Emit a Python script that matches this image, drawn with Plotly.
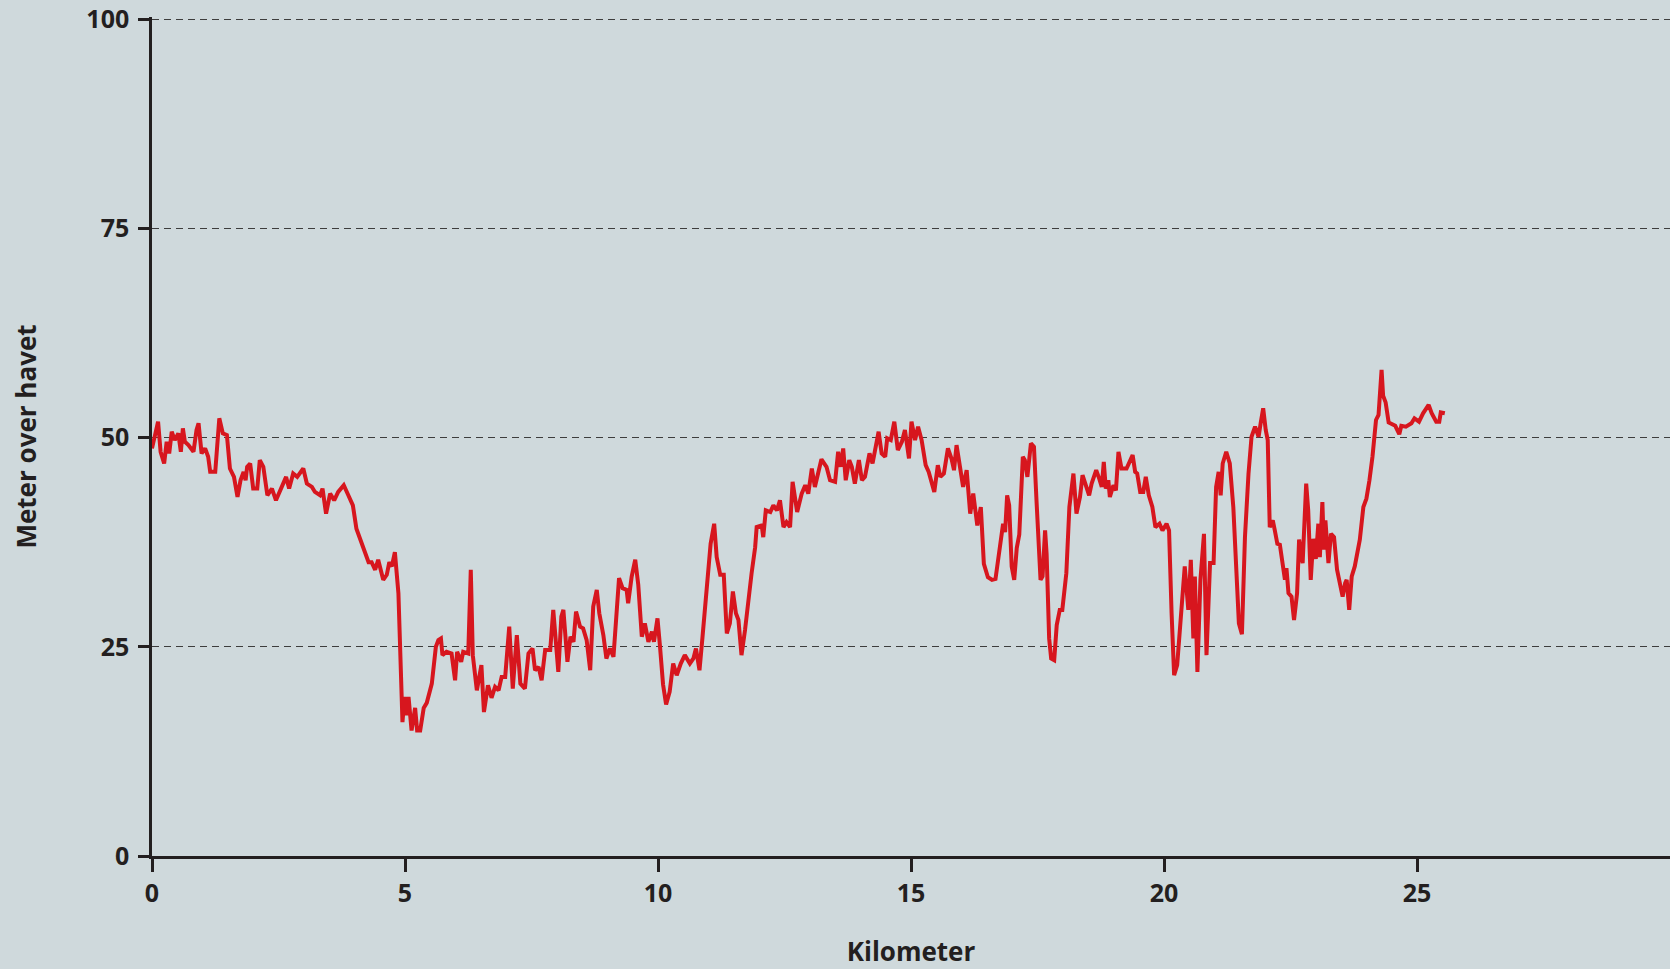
import plotly.graph_objects as go

km = [0.00, 0.12, 0.17, 0.24, 0.29, 0.34, 0.39, 0.45, 0.52, 0.57, 0.61, 0.65, 0.72, 0.82, 0.88, 0.92, 0.98,
      1.05, 1.11, 1.15, 1.25, 1.29, 1.33, 1.40, 1.48, 1.54, 1.62, 1.69, 1.75, 1.81, 1.85, 1.88, 1.94,
      2.00, 2.08, 2.13, 2.20, 2.28, 2.37, 2.45, 2.53, 2.59, 2.65, 2.71, 2.79, 2.87, 2.99,
      3.06, 3.16, 3.22, 3.32, 3.37, 3.44, 3.52, 3.60, 3.68, 3.79, 3.88, 3.97,
      4.04, 4.14, 4.21, 4.28, 4.34, 4.41, 4.47, 4.57, 4.64, 4.69, 4.74, 4.80, 4.87, 4.92, 4.95, 4.99,
      5.03, 5.07, 5.13, 5.20, 5.24, 5.30, 5.37, 5.43, 5.49, 5.53, 5.61, 5.66, 5.71, 5.74, 5.82, 5.92, 5.99,
      6.03, 6.11, 6.15, 6.25, 6.30, 6.34, 6.42, 6.51, 6.56, 6.64, 6.71, 6.78, 6.85, 6.91, 6.98,
      7.06, 7.13, 7.21, 7.28, 7.37, 7.44, 7.52, 7.57, 7.64, 7.70, 7.77, 7.87, 7.93,
      8.03, 8.09, 8.13, 8.21, 8.27, 8.33, 8.38, 8.46, 8.52, 8.59, 8.66, 8.72, 8.79, 8.84, 8.92, 8.98,
      9.05, 9.12, 9.17, 9.23, 9.30, 9.38, 9.41, 9.48, 9.55, 9.61, 9.68, 9.74, 9.81, 9.88, 9.92, 9.99,
      10.04, 10.10, 10.16, 10.23, 10.30, 10.37, 10.45, 10.53, 10.63, 10.70, 10.75, 10.82, 10.88, 10.96,
      11.04, 11.11, 11.16, 11.23, 11.30, 11.36, 11.42, 11.48, 11.54, 11.59, 11.65, 11.72, 11.78, 11.85, 11.92, 11.95,
      12.05, 12.08, 12.13, 12.22, 12.28, 12.35, 12.41, 12.48, 12.54, 12.61, 12.66, 12.75, 12.84, 12.91, 12.97,
      13.04, 13.10, 13.17, 13.23, 13.33, 13.40, 13.50, 13.56, 13.61, 13.66, 13.71, 13.78, 13.83, 13.89, 13.97,
      14.03, 14.09, 14.18, 14.24, 14.31, 14.36, 14.42, 14.49, 14.53, 14.60, 14.67, 14.74, 14.82, 14.88, 14.96,
      15.01, 15.08, 15.14, 15.21, 15.29, 15.35, 15.41, 15.46, 15.53, 15.58, 15.65, 15.73, 15.80, 15.85, 15.90, 15.97,
      16.03, 16.10, 16.17, 16.23, 16.31, 16.38, 16.44, 16.52, 16.60, 16.67, 16.76, 16.82, 16.86, 16.90, 16.94, 16.99,
      17.04, 17.09, 17.14, 17.21, 17.25, 17.30, 17.37, 17.43, 17.48, 17.56, 17.60, 17.65, 17.68, 17.73, 17.77, 17.83, 17.88, 17.94, 17.99,
      18.07, 18.13, 18.21, 18.27, 18.34, 18.39, 18.46, 18.52, 18.57, 18.66, 18.72, 18.77, 18.81, 18.85, 18.90, 18.93,
      19.00, 19.05, 19.10, 19.16, 19.26, 19.33, 19.38, 19.43, 19.47, 19.53, 19.59, 19.64, 19.70, 19.77, 19.83, 19.91, 19.97,
      20.05, 20.10, 20.15, 20.20, 20.26, 20.32, 20.41, 20.48, 20.53, 20.58, 20.61, 20.66, 20.72, 20.79, 20.84, 20.91, 20.98,
      21.03, 21.08, 21.12, 21.16, 21.23, 21.30, 21.37, 21.43, 21.48, 21.54, 21.60, 21.67, 21.73, 21.80, 21.87, 21.91, 21.96,
      22.01, 22.05, 22.09, 22.15, 22.19, 22.24, 22.29, 22.35, 22.39, 22.42, 22.46, 22.52, 22.57, 22.63, 22.67, 22.74, 22.81, 22.85, 22.90, 22.95,
      23.00, 23.05, 23.08, 23.13, 23.16, 23.19, 23.25, 23.30, 23.36, 23.42, 23.47, 23.53, 23.58, 23.61, 23.66, 23.71, 23.77, 23.87, 23.94,
      24.00, 24.06, 24.12, 24.19, 24.24, 24.30, 24.33, 24.38, 24.44, 24.57, 24.65, 24.69, 24.78, 24.89, 24.95,
      25.04, 25.12, 25.23, 25.29, 25.38, 25.44, 25.47, 25.55]

elevation = [48.7, 51.9, 48.3, 46.9, 49.5, 48.1, 50.7, 49.7, 50.5, 48.3, 51.1, 49.5, 49.1, 48.3, 50.9, 51.7, 48.1,
             48.7, 47.7, 45.9, 45.9, 49.3, 52.3, 50.5, 50.3, 46.3, 45.3, 42.9, 44.9, 45.9, 44.9, 46.5, 46.9,
             43.9, 43.9, 47.3, 46.5, 43.1, 43.9, 42.5, 43.7, 44.3, 45.3, 43.9, 45.7, 45.3, 46.3,
             44.5, 44.1, 43.5, 43.1, 43.9, 40.9, 43.3, 42.5, 43.5, 44.3, 43.1, 41.9,
             39.1, 37.5, 36.3, 35.1, 35.1, 34.2, 35.4, 33.0, 33.6, 35.1, 34.6, 36.3, 31.4, 19.6, 16.0, 19.0,
             16.8, 19.0, 15.0, 17.7, 15.0, 15.0, 17.7, 18.3, 19.6, 20.6, 25.0, 25.8, 26.0, 24.0, 24.4, 24.2, 21.0,
             24.4, 23.2, 24.4, 24.2, 34.2, 24.0, 19.8, 22.8, 17.2, 20.4, 18.9, 20.2, 19.8, 21.4, 21.4,
             27.4, 20.0, 26.4, 20.6, 20.0, 24.2, 24.8, 22.2, 22.6, 21.0, 24.6, 24.6, 29.4,
             22.0, 28.6, 29.4, 23.2, 26.2, 25.6, 29.2, 27.4, 27.2, 25.8, 22.2, 29.8, 31.8, 29.0, 26.4, 23.6,
             24.8, 23.8, 29.0, 33.2, 32.0, 31.8, 30.2, 33.4, 35.4, 32.4, 26.2, 27.8, 25.6, 26.8, 25.6, 28.4,
             25.0, 20.5, 18.1, 19.6, 23.0, 21.6, 23.0, 24.0, 23.0, 23.6, 24.8, 22.2, 26.2, 31.2,
             37.3, 39.7, 35.7, 33.6, 33.6, 26.6, 27.8, 31.6, 29.0, 28.2, 24.0, 27.0, 30.4, 33.8, 36.9, 39.3,
             39.5, 38.1, 41.3, 41.1, 41.9, 41.3, 42.5, 39.3, 39.9, 39.3, 44.7, 41.1, 43.3, 44.3, 43.3,
             46.3, 44.1, 45.9, 47.4, 46.5, 44.9, 44.7, 48.3, 46.5, 48.7, 44.9, 47.3, 46.5, 44.5, 47.3,
             44.9, 45.3, 48.1, 46.9, 49.5, 50.7, 48.1, 47.7, 49.9, 49.7, 51.9, 48.5, 49.5, 50.9, 47.5,
             51.9, 49.7, 51.3, 49.7, 46.7, 45.9, 44.5, 43.5, 46.7, 45.3, 45.7, 48.7, 47.5, 46.1, 49.1, 46.1,
             44.1, 46.1, 40.9, 43.3, 39.5, 41.7, 34.9, 33.3, 33.0, 33.1, 36.6, 39.7, 38.7, 43.1, 41.9, 34.6,
             33.0, 36.8, 38.4, 47.7, 47.3, 45.3, 49.3, 48.9, 42.5, 33.0, 33.4, 38.9, 36.1, 26.0, 23.6, 23.4, 27.6, 29.4, 29.4,
             33.8, 41.7, 45.7, 40.9, 42.9, 45.5, 44.3, 43.1, 44.5, 46.1, 45.1, 44.1, 47.1, 43.9, 44.9, 42.9,
             44.3, 43.7, 48.3, 46.3, 46.3, 47.3, 47.9, 45.9, 45.7, 43.5, 43.5, 45.3, 43.1, 41.7, 39.3, 39.7, 38.9,
             39.7, 38.9, 29.0, 21.6, 22.8, 28.2, 34.6, 29.4, 35.4, 26.0, 33.4, 22.0, 33.0, 38.5, 24.0, 35.0, 35.0,
             44.1, 45.9, 43.1, 46.9, 48.3, 46.9, 41.7, 35.0, 27.8, 26.5, 38.1, 45.7, 50.1, 51.3, 50.1, 51.7, 53.5,
             50.9, 49.7, 39.3, 40.1, 38.9, 37.3, 37.2, 34.2, 33.0, 34.4, 31.4, 31.0, 28.2, 31.4, 37.8, 35.0, 44.5, 41.3, 33.0, 37.9,
             35.5, 39.7, 35.7, 42.3, 36.6, 40.1, 35.0, 38.5, 38.1, 34.2, 32.6, 31.0, 32.6, 33.0, 29.4, 33.4, 34.6, 37.8, 41.7,
             42.7, 44.9, 47.7, 52.1, 52.7, 58.1, 55.0, 54.2, 51.8, 51.4, 50.4, 51.4, 51.3, 51.7, 52.3,
             51.9, 52.9, 53.9, 52.9, 51.9, 51.9, 53.0, 52.9]

x_ticks = [0, 5, 10, 15, 20, 25]
y_ticks = [0, 25, 50, 75, 100]
x_title = "Kilometer"
y_title = "Meter over havet"

bg = "#cfd9dc"
ink = "#231f20"

fig = go.Figure(go.Scatter(x=km, y=elevation, mode="lines",
                           line=dict(color="#d7161e", width=4),
                           hoverinfo="skip"))

fig.update_layout(
    width=1670, height=969,
    margin=dict(l=152, r=0, t=17, b=113),
    paper_bgcolor=bg, plot_bgcolor=bg,
    font=dict(family="Open Sans", size=25, color=ink, weight=700),
    showlegend=False,
)
fig.update_xaxes(
    range=[0, 30], tickvals=x_ticks, ticks="outside", ticklen=13, tickwidth=2.5,
    tickcolor=ink, showline=True, linecolor=ink, linewidth=2.5,
    showgrid=False, zeroline=False,
    title=dict(text=x_title, standoff=40, font=dict(size=26, weight=700)),
)
fig.update_yaxes(
    range=[0, 100.25], tickvals=y_ticks, ticks="outside", ticklen=11, tickwidth=2.5,
    tickcolor=ink, showline=True, linecolor=ink, linewidth=2.5,
    showgrid=True, gridcolor="#3d3d3d", gridwidth=1.2, griddash="7px,5px",
    zeroline=False, ticklabelstandoff=4,
    title=dict(text=y_title, standoff=43, font=dict(size=26, weight=700)),
)

fig.write_html("out.html", config={"displayModeBar": False},
               post_script="document.body.style.margin='0';document.body.style.background='" + bg + "';")
